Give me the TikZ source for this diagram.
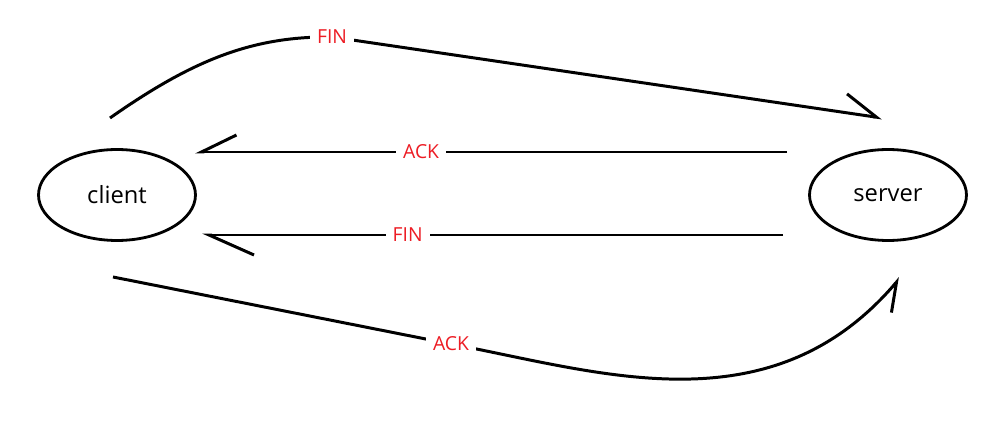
\documentclass[tikz,border=0pt]{standalone}
\usepackage{fontspec}
\setmainfont{Open Sans}
\usepackage{xcolor}
\usetikzlibrary{arrows.meta,shapes.geometric}
\definecolor{msgred}{RGB}{237,28,36}

\tikzset{
  host/.style={draw, ellipse, line width=1.6pt, minimum width=3.14cm, minimum height=1.82cm, inner sep=0pt, font=\fontsize{13.5}{16}\selectfont},
  msg/.style={fill=white, text=msgred, inner xsep=4pt, inner ysep=1pt, font=\fontsize{11}{13}\selectfont},
  link/.style={line width=1.7pt},
  halfhead/.style={-{Straight Barb[harpoon,#1]}}
}

\begin{document}
\begin{tikzpicture}[x=0.02cm, y=-0.02cm]
        \useasboundingbox (0,0) rectangle (992,442);

        % Hosts
        \node [host] (client) at (117,195) {client};
        \node [host] (server) at (888,195) {server};

        % Free ends of the messages
        \coordinate (fin1a) at (110,118);
        \coordinate (fin1b) at (882,118);
        \coordinate (ack1a) at (787,152);
        \coordinate (ack1b) at (195,152);
        \coordinate (fin2a) at (783,235);
        \coordinate (fin2b) at (202,235);
        \coordinate (ack2a) at (113,277);
        \coordinate (ack2b) at (900,278);

        % client -> server: FIN
        \draw [link, halfhead={length=0.65cm, width=0.75cm}] (fin1a) .. controls (190,62) and (250,36) .. (332,37) node [msg] {FIN} -- (fin1b);

        % server -> client: ACK
        \draw [link, halfhead={swap, length=0.70cm, width=0.68cm}] (ack1a) -- node [msg, pos=0.618] {ACK} (ack1b);

        % server -> client: FIN
        \draw [link, halfhead={length=0.9cm, width=0.8cm}] (fin2a) -- node [msg, pos=0.646] {FIN} (fin2b);

        % client -> server: ACK
        \draw [link, halfhead={swap, length=0.53cm, width=0.64cm}] (ack2a) -- (451,344) node [msg] {ACK} .. controls (600,372) and (770,430) .. (ack2b);
    \end{tikzpicture}
\end{document}
